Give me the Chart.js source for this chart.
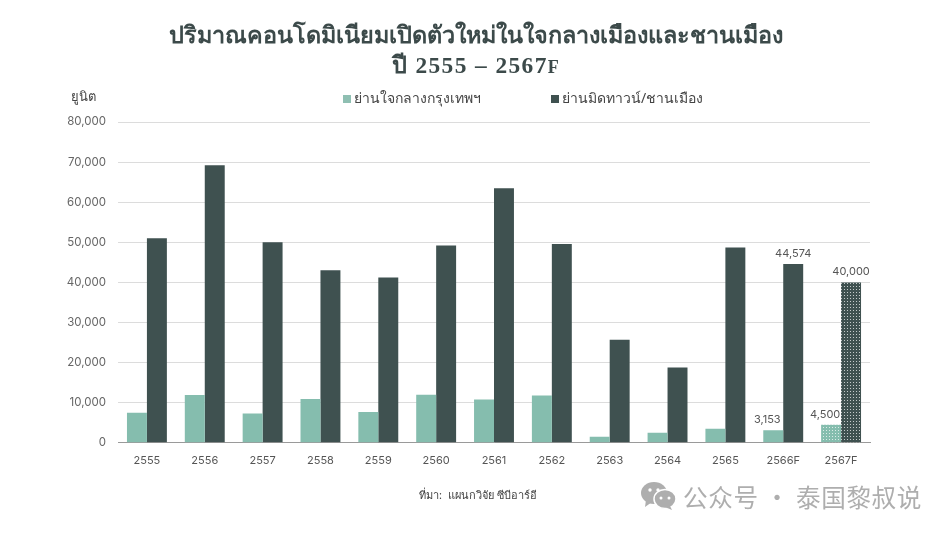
<!DOCTYPE html>
<html lang="th">
<head>
<meta charset="utf-8">
<title>ปริมาณคอนโดมิเนียมเปิดตัวใหม่</title>
<script src="https://cdn.jsdelivr.net/npm/chart.js@4/dist/chart.umd.min.js"></script>
<style>
    html, body { margin: 0; padding: 0; background: #fff; }
    #wrap { position: relative; width: 952px; height: 536px; overflow: hidden; }
    #chart { position: absolute; left: 0; top: 0; }
    .txt { position: absolute; white-space: nowrap; }
    #title { left: 0; width: 952px; top: 20px; text-align: center; font: bold 23.4px/30px "Liberation Serif", "Noto Sans", serif; color: #3c4a4a; }
    #title span { letter-spacing: 1.4px; }
    #title small { font-size: 18px; }
    #unit { left: 71px; top: 86px; font: 13px "Noto Sans", sans-serif; color: #444; }
    #source { left: 419px; top: 486px; font: 11px "Noto Sans", sans-serif; color: #444; }
    #mark { left: 641px; top: 478px; display: flex; align-items: center; gap: 6px; font: 24.6px "Noto Sans CJK SC", sans-serif; color: #aeaeae; letter-spacing: 0.6px; }
    .legend-item { top: 87px; font: 14px "Noto Sans", sans-serif; color: #444; display: flex; align-items: center; gap: 3px; }
    .legend-item i { display: block; width: 8px; height: 8px; margin-top: 2px; }
</style>
</head>
<body>
<div id="wrap">
    <canvas id="chart" width="952" height="536"></canvas>
    <div class="txt" id="title">ปริมาณคอนโดมิเนียมเปิดตัวใหม่ในใจกลางเมืองและชานเมือง<br><span>ปี 2555 – 2567<small>F</small></span></div>
    <div class="txt" id="unit">ยูนิต</div>
    <div class="txt legend-item" style="left:343px"><i id="key-cbd"></i><span id="name-cbd"></span></div>
    <div class="txt legend-item" style="left:551px"><i id="key-suburb"></i><span id="name-suburb"></span></div>
    <div class="txt" id="source">ที่มา:&nbsp; แผนกวิจัย ซีบีอาร์อี</div>
    <div class="txt" id="mark">
        <svg width="36" height="28" viewBox="0 0 36 28">
            <ellipse cx="13" cy="11" rx="13" ry="11" fill="#aeaeae"/>
            <path d="M5 18 L4 25 L11 20 Z" fill="#aeaeae"/>
            <ellipse cx="24" cy="17" rx="11" ry="9.5" fill="#aeaeae" stroke="#fff" stroke-width="1.5"/>
            <path d="M29 24 L31 28 L24 25 Z" fill="#aeaeae"/>
            <circle cx="9" cy="8" r="1.7" fill="#fff"/><circle cx="17" cy="8" r="1.7" fill="#fff"/>
            <circle cx="20" cy="16" r="1.5" fill="#fff"/><circle cx="28" cy="16" r="1.5" fill="#fff"/>
        </svg>
        <span>公众号 · 泰国黎叔说</span>
    </div>
</div>
<script>
// ── Chart data ────────────────────────────────────────────
const years = ['2555', '2556', '2557', '2558', '2559', '2560', '2561', '2562', '2563', '2564', '2565', '2566F', '2567F'];
const cbdUnits = [7500, 11900, 7300, 10900, 7700, 12000, 10800, 11800, 1500, 2500, 3500, 3153, 4500];
const suburbUnits = [51000, 69200, 50000, 43000, 41200, 49200, 63500, 49600, 25700, 18800, 48700, 44574, 40000];
const cbdLabel = 'ย่านใจกลางกรุงเทพฯ';
const suburbLabel = 'ย่านมิดทาวน์/ชานเมือง';
// only the forecast bars carry a value label
const labelledYears = ['2566F', '2567F'];

const TEAL = '#85bdae';
const DARK = '#3f5150';
const FONT = "Inter, 'Noto Sans', sans-serif";

// ── Legend (the two keys sit far apart, off centre) ───────
document.getElementById('name-cbd').textContent = cbdLabel;
document.getElementById('name-suburb').textContent = suburbLabel;
document.getElementById('key-cbd').style.background = '#8fbfb2';
document.getElementById('key-suburb').style.background = DARK;

// ── Dotted fill for the forecast bar ──────────────────────
function dotPattern(color) {
    const c = document.createElement('canvas');
    c.width = 3;
    c.height = 3;
    const g = c.getContext('2d');
    g.fillStyle = color;
    g.fillRect(0, 0, 3, 3);
    g.fillStyle = 'rgba(255,255,255,0.7)';
    g.fillRect(1, 1, 1, 1);
    return g.createPattern(c, 'repeat');
}

function barColors(color) {
    return years.map(y => y === '2567F' ? dotPattern(color) : color);
}

// ── Value labels above the forecast bars ──────────────────
const valueLabels = {
    id: 'valueLabels',
    afterDatasetsDraw(chart) {
        const ctx = chart.ctx;
        ctx.save();
        ctx.font = '11px ' + FONT;
        ctx.fillStyle = '#555';
        ctx.textAlign = 'center';
        ctx.textBaseline = 'bottom';
        chart.data.datasets.forEach((ds, d) => {
            chart.getDatasetMeta(d).data.forEach((bar, i) => {
                if (!labelledYears.includes(years[i])) return;
                const shift = d === 0 ? -6 : 0;
                ctx.fillText(ds.data[i].toLocaleString('en-US'), bar.x + shift, bar.y - 5);
            });
        });
        ctx.restore();
    }
};

new Chart(document.getElementById('chart'), {
    type: 'bar',
    data: {
        labels: years,
        datasets: [
            { label: cbdLabel, data: cbdUnits, backgroundColor: barColors(TEAL) },
            { label: suburbLabel, data: suburbUnits, backgroundColor: barColors(DARK) }
        ]
    },
    options: {
        responsive: false,
        animation: false,
        layout: { padding: { top: 122, left: 0, right: 82, bottom: 66 } },
        datasets: { bar: { barPercentage: 1, categoryPercentage: 0.69 } },
        plugins: {
            tooltip: { enabled: false },
            legend: { display: false }
        },
        scales: {
            x: {
                grid: { display: false },
                border: { color: '#9a9a9a' },
                ticks: { color: '#555', font: { size: 11, family: FONT }, padding: 3, maxRotation: 0 }
            },
            y: {
                min: 0,
                max: 80000,
                afterFit(scale) { scale.width = 118; },
                grid: { color: '#dcdcdc', drawTicks: false },
                border: { display: false },
                ticks: {
                    stepSize: 10000,
                    padding: 12,
                    color: '#666',
                    font: { size: 11.5, family: FONT },
                    callback: v => v.toLocaleString('en-US')
                }
            }
        }
    },
    plugins: [valueLabels]
});
</script>
</body>
</html>
